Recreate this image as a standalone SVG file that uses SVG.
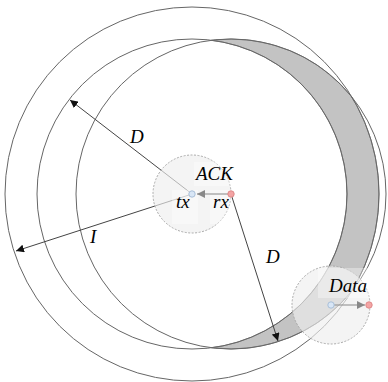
<svg xmlns="http://www.w3.org/2000/svg" width="388" height="382" viewBox="0 0 388 382">
<defs>
<style>
.big{fill:none;stroke:#666;stroke-width:1}
.conn{fill:none;stroke:#444;stroke-width:1}
.small{fill:#eeeeee;fill-opacity:0.65;stroke:#aaa;stroke-width:1;stroke-dasharray:2 1.5}
.lbl{font-family:"Liberation Serif",serif;font-style:italic;font-size:19px;fill:#000}
.lblbg{fill:#fff;fill-opacity:0.35}
.tx{fill:#d8e6f6;stroke:#a9bfd8;stroke-width:1}
.rx{fill:#f4a4a4;stroke:#df8a8a;stroke-width:1}
.msg{fill:none;stroke:#999;stroke-width:1.2}
</style>
<marker id="ah" viewBox="0 0 10 10" refX="10" refY="5" markerWidth="8" markerHeight="8" markerUnits="userSpaceOnUse" orient="auto">
<path d="M0,0 L10,5 L0,10 Z" fill="#111"/>
</marker>
<marker id="ahg" viewBox="0 0 10 10" refX="10" refY="5" markerWidth="8" markerHeight="8" markerUnits="userSpaceOnUse" orient="auto">
<path d="M0,0 L10,5 L0,10 Z" fill="#888"/>
</marker>
</defs>
<rect width="388" height="382" fill="#fff"/>
<g id="region">
<path d="M211.5,40.23 A155,155 0 0 1 351.8,96.9 A187,187 0 0 1 351.8,291.1 A155,155 0 0 1 211.5,347.77 A155,155 0 0 0 211.5,40.23 Z" fill="#c3c3c3" stroke="#888" stroke-width="1"/>
</g>
<g id="circles">
<circle id="range-I" class="big" cx="192" cy="194" r="187"/>
<circle id="range-D-tx" class="big" cx="192" cy="194" r="155"/>
<circle id="range-D-rx" class="big" cx="231" cy="194" r="155"/>
</g>
<g id="connectors">
<line class="conn" x1="192" y1="194" x2="70" y2="100" marker-end="url(#ah)"/>
<line class="conn" x1="192" y1="194" x2="16" y2="251" marker-end="url(#ah)"/>
<line class="conn" x1="231" y1="194" x2="278" y2="341" marker-end="url(#ah)"/>
</g>
<g id="ack">
<circle class="small" cx="192" cy="194" r="39"/>
<rect class="lblbg" x="194" y="162" width="44" height="24"/>
<rect class="lblbg" x="172" y="190" width="26" height="34"/>
<rect class="lblbg" x="210" y="190" width="22" height="34"/>
<line class="msg" x1="228" y1="194" x2="197" y2="194" marker-end="url(#ahg)"/>
<circle class="tx" cx="192" cy="194" r="3.2"/>
<circle class="rx" cx="231" cy="194" r="3.2"/>
<text class="lbl" x="196" y="180">ACK</text>
<text class="lbl" x="176" y="208">tx</text>
<text class="lbl" x="213" y="208">rx</text>
</g>
<g id="data">
<circle class="small" cx="331" cy="305" r="39"/>
<rect class="lblbg" x="318" y="268" width="62" height="30"/>
<line class="msg" x1="334" y1="305" x2="365" y2="305" marker-end="url(#ahg)"/>
<circle class="tx" cx="331" cy="305" r="3.2"/>
<circle class="rx" cx="369" cy="305" r="3.2"/>
<text class="lbl" x="329" y="292">Data</text>
</g>
<g id="labels">
<text class="lbl" x="130" y="143">D</text>
<text class="lbl" x="90" y="243">I</text>
<text class="lbl" x="266" y="263">D</text>
</g>
</svg>
